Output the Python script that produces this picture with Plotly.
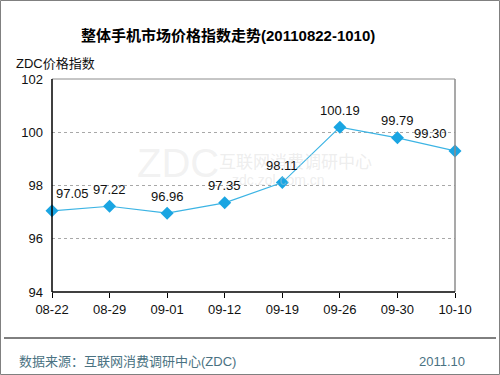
import plotly.graph_objects as go

categories = ["08-22", "08-29", "09-01", "09-12", "09-19", "09-26", "09-30", "10-10"]
values = [97.05, 97.22, 96.96, 97.35, 98.11, 100.19, 99.79, 99.30]
y_ticks = [94, 96, 98, 100, 102]

W, H = 500, 375
L, R, T, B = 52, 455, 79, 292

def px(x):
    return (x - L) / (R - L)

def py(y):
    return (B - y) / (B - T)

xs = list(range(len(categories)))
fig = go.Figure()
fig.add_trace(go.Scatter(
    x=xs, y=values, mode="lines+markers",
    line=dict(color="#3cb4e4", width=1.2),
    marker=dict(symbol="diamond", size=10, color="#1aa5e2"),
    cliponaxis=False, hoverinfo="skip", showlegend=False,
))

font = "Liberation Sans, Arial, Noto Sans CJK SC"
fig.update_layout(
    width=W, height=H, margin=dict(l=L, r=W - R, t=T, b=H - B),
    paper_bgcolor="white", plot_bgcolor="white",
    font=dict(family=font, size=13, color="#111111"),
    xaxis=dict(range=[0, len(categories) - 1], tickmode="array", tickvals=xs,
               ticktext=categories, showgrid=False, zeroline=False,
               showline=False, ticks="outside", ticklen=5, tickcolor="#000000",
               tickfont=dict(size=13)),
    yaxis=dict(range=[94, 102], tickmode="array", tickvals=y_ticks,
               ticktext=[str(t) for t in y_ticks], ticklabelstandoff=8,
               showgrid=True, gridcolor="#a8a8a8", griddash="dot", gridwidth=1,
               zeroline=False, showline=False, ticks="", tickfont=dict(size=13)),
)

shapes = [
    dict(type="rect", xref="paper", yref="paper", x0=px(0.5), x1=px(499.5),
         y0=py(374.5), y1=py(0.5), line=dict(color="#808080", width=1)),
    dict(type="line", xref="paper", yref="paper", x0=0, x1=1, y0=1, y1=1,
         line=dict(color="#8c8c8c", width=1)),
    dict(type="line", xref="paper", yref="paper", x0=1, x1=1, y0=0, y1=1,
         line=dict(color="#8c8c8c", width=1.5)),
    dict(type="line", xref="paper", yref="paper", x0=0, x1=0, y0=0, y1=1,
         line=dict(color="#000000", width=1.5)),
    dict(type="line", xref="paper", yref="paper", x0=0, x1=1, y0=0, y1=0,
         line=dict(color="#000000", width=1.5)),
    dict(type="line", xref="paper", yref="paper", x0=px(4), x1=px(496),
         y0=py(338), y1=py(338), line=dict(color="#000000", width=1)),
]
fig.update_layout(shapes=shapes)

ann = [
    dict(text="<b>整体手机市场价格指数走势(20110822-1010)</b>", x=px(228), y=py(36),
         font=dict(size=15, color="#000000")),
    dict(text="ZDC价格指数", x=px(14), y=py(63), xanchor="left",
         font=dict(size=13, color="#111111")),
    dict(text="数据来源：互联网消费调研中心(ZDC)", x=px(17), y=py(361), xanchor="left",
         font=dict(size=13, color="#4a7282")),
    dict(text="2011.10", x=px(467), y=py(361), xanchor="right",
         font=dict(size=13, color="#4a7282")),
    dict(text="ZDC", x=px(178), y=py(163),
         font=dict(size=40, color="rgba(210,210,210,0.3)")),
    dict(text="互联网消费调研中心", x=px(295), y=py(162),
         font=dict(size=17, color="rgba(210,210,210,0.4)")),
    dict(text="zdc.zol.com.cn", x=px(278), y=py(180),
         font=dict(size=14, color="rgba(210,210,210,0.4)")),
]
for a in ann:
    a.update(xref="paper", yref="paper", showarrow=False, yanchor="middle")
    a.setdefault("xanchor", "center")

# data labels, placed through data coordinates
n = len(values)
for i, v in enumerate(values):
    shift = 20 if i == 0 else (-25 if i == n - 1 else 0)
    ann.append(dict(x=xs[i], y=v, xref="x", yref="y", text=f"{v:.2f}",
                    showarrow=False, xanchor="center", yanchor="middle",
                    xshift=shift, yshift=17,
                    font=dict(family=font, size=13, color="#111111")))
fig.update_layout(annotations=ann)

fig.write_html("out.html")
